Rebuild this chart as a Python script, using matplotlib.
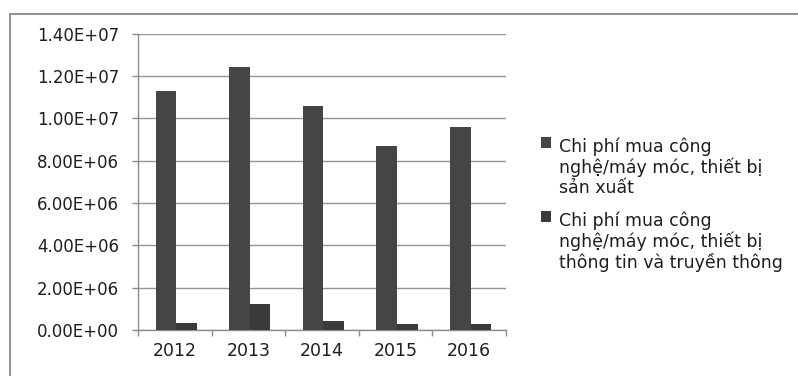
import numpy as np
import matplotlib
matplotlib.use("Agg")
import matplotlib.pyplot as plt
from matplotlib.patches import Rectangle
from matplotlib.ticker import FuncFormatter, FixedLocator

years = ["2012", "2013", "2014", "2015", "2016"]
san_xuat = [11.3e6, 12.4e6, 10.6e6, 8.7e6, 9.6e6]
thong_tin = [0.34e6, 1.23e6, 0.42e6, 0.27e6, 0.30e6]
labels = ["Chi phí mua công\nnghệ/máy móc, thiết bị\nsản xuất",
          "Chi phí mua công\nnghệ/máy móc, thiết bị\nthông tin và truyền thông"]

plt.rcParams['font.family'] = ['DejaVu Sans']

fig = plt.figure(figsize=(7.98, 3.76), dpi=100)
fig.patch.set_facecolor('white')
# outer chart frame
fig.patches.append(Rectangle((10/798, -0.2), 1.2, 1.2 - 14/376,
                             transform=fig.transFigure, fill=False,
                             edgecolor='#7f7f7f', linewidth=1.2))

ax = fig.add_axes([138/798, 1 - 330/376, (506 - 138)/798, (330 - 33.5)/376])
x = np.arange(len(years))
w = 0.28
ax.bar(x - w/2 + 0.02, san_xuat, w, color='#454545', label=labels[0], zorder=3)
ax.bar(x + w/2 + 0.02, thong_tin, w, color='#3a3a3a', label=labels[1], zorder=3)

ax.set_xlim(-0.5, len(years) - 0.5)
ax.set_ylim(0, 1.4e7)
ax.set_yticks(np.arange(0, 1.41e7, 2e6))
ax.yaxis.set_major_formatter(FuncFormatter(lambda v, p: "{:.2E}".format(v)))
ax.yaxis.grid(True, color='#959595', linewidth=1.0, zorder=0)
ax.set_axisbelow(True)

ax.set_xticks(x)
ax.set_xticklabels(years)
ax.xaxis.set_minor_locator(FixedLocator(np.arange(-0.5, len(years), 1.0)))
ax.tick_params(axis='x', which='major', length=0, pad=9, labelsize=12.5, labelcolor='#1e1e1e')
ax.tick_params(axis='x', which='minor', length=4, width=1, color='#8c8c8c', direction='out')
ax.tick_params(axis='y', which='major', length=4.5, width=1, color='#8c8c8c', pad=9,
               labelsize=12, labelcolor='#1e1e1e')

for s in ['top', 'right']:
    ax.spines[s].set_visible(False)
for s in ['left', 'bottom']:
    ax.spines[s].set_color('#8c8c8c')
    ax.spines[s].set_linewidth(1.0)

leg = fig.legend(loc='upper left', bbox_to_anchor=(529/798, 1 - 125/376), frameon=False,
                 fontsize=12.5, handlelength=0.55, handleheight=0.55, handletextpad=0.45,
                 labelspacing=0.85, labelcolor='#1e1e1e', borderpad=0.2)
for t in leg.get_texts():
    t.set_linespacing(1.12)
for col in leg._legend_handle_box.get_children():
    for item in col.get_children():
        item.align = 'top'

fig.savefig("out.png", dpi=100, facecolor='white')
